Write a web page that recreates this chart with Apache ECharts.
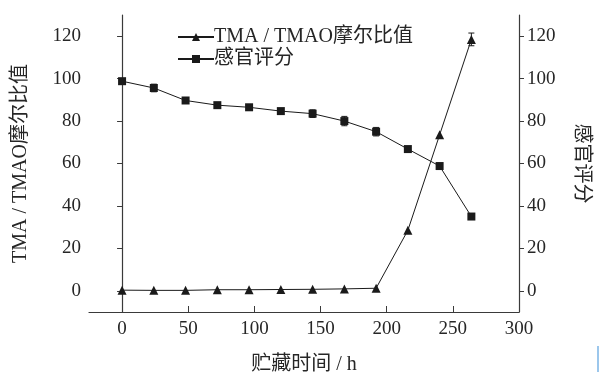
<!DOCTYPE html>
<html><head><meta charset="utf-8">
<script src="https://cdn.jsdelivr.net/npm/echarts@6/dist/echarts.min.js"></script>
<style>html,body{margin:0;padding:0;background:#fff}#c{width:601px;height:374px}</style>
</head><body><div id="c"></div>
<script>
var hours = [0, 24, 48, 72, 96, 120, 144, 168, 192, 216, 240, 264];
var tmaRatio = [0.3, 0.2, 0.2, 0.5, 0.5, 0.6, 0.7, 0.9, 1.2, 28.5, 73.5, 118.5];
var tmaErr = [0, 0, 0, 0, 0, 0, 0, 0, 0, 0, 0, 3];
var sensory = [98.8, 95.6, 89.7, 87.5, 86.5, 84.7, 83.5, 80, 75, 66.8, 58.8, 35];
var sensoryErr = [0.8, 1.8, 0.8, 0.6, 0.6, 0.6, 1.8, 2.2, 2, 0.6, 0.6, 0.8];
var xTicks = [0, 50, 100, 150, 200, 250, 300];
var yTicks = [0, 20, 40, 60, 80, 100, 120];

var FONT = '"Liberation Serif", "Noto Sans CJK SC", serif';
var INK = '#1a1a1a';
var AX = '#3a3a3a';
var TXT = '#262626';

function pairs(xs, ys){ return xs.map(function(x,i){return [x, ys[i]];}); }
function errData(xs, ys, es){ return xs.map(function(x,i){return [x, ys[i]-es[i], ys[i]+es[i]];}); }
function errRender(params, api){
  var x = api.value(0), lo = api.value(1), hi = api.value(2);
  if (hi - lo < 0.5) return;
  var p1 = api.coord([x, lo]), p2 = api.coord([x, hi]);
  var w = 3;
  var st = {stroke: INK, lineWidth: 1};
  return {type:'group', children:[
    {type:'line', shape:{x1:p1[0], y1:p1[1], x2:p2[0], y2:p2[1]}, style:st},
    {type:'line', shape:{x1:p1[0]-w, y1:p1[1], x2:p1[0]+w, y2:p1[1]}, style:st},
    {type:'line', shape:{x1:p2[0]-w, y1:p2[1], x2:p2[0]+w, y2:p2[1]}, style:st}
  ]};
}

var yCommon = function(pos, name, rot, gap){
  return {
    type:'value', position:pos, min:-10, max:130,
    name:name, nameLocation:'middle', nameRotate:rot, nameGap:gap,
    nameTextStyle:{fontFamily:FONT, fontSize:20, color:TXT},
    axisLine:{show:true, lineStyle:{color:AX, width:1.2}},
    axisTick:{show:true, inside:false, length:5, customValues:yTicks, lineStyle:{color:AX}},
    axisLabel:{customValues:yTicks, fontFamily:FONT, fontSize:19, color:TXT, margin:8},
    splitLine:{show:false}
  };
};

var chart = echarts.init(document.getElementById('c'));
chart.setOption({
  animation:false,
  backgroundColor:'#fff',
  grid:{left:89, right:82, top:15, bottom:62, containLabel:false, outerBoundsMode:'none'},
  legend:{
    orient:'vertical', left:172, top:22, itemGap:2, itemWidth:36, itemHeight:10,
    textStyle:{fontFamily:FONT, fontSize:20, color:TXT, padding:[0,0,0,-5]},
    data:['TMA / TMAO摩尔比值', '感官评分']
  },
  xAxis:{
    type:'value', min:-25, max:300,
    name:'贮藏时间 / h', nameLocation:'middle', nameGap:43,
    nameTextStyle:{fontFamily:FONT, fontSize:20, color:TXT},
    axisLine:{show:true, onZero:false, lineStyle:{color:AX, width:1.2}},
    axisTick:{show:true, inside:true, length:6, customValues:xTicks, lineStyle:{color:AX}},
    axisLabel:{customValues:xTicks, fontFamily:FONT, fontSize:19, color:TXT, margin:8},
    splitLine:{show:false}
  },
  yAxis:[
    yCommon('left', 'TMA / TMAO摩尔比值', 90, 58),
    yCommon('right', '感官评分', -90, 52)
  ],
  series:[
    {name:'TMA / TMAO摩尔比值', type:'line', yAxisIndex:0, data:pairs(hours, tmaRatio),
     symbol:'triangle', symbolSize:9, lineStyle:{color:INK, width:1}, itemStyle:{color:INK}, z:3},
    {name:'感官评分', type:'line', yAxisIndex:1, data:pairs(hours, sensory),
     symbol:'rect', symbolSize:8, lineStyle:{color:INK, width:1}, itemStyle:{color:INK}, z:3},
    {type:'custom', yAxisIndex:0, renderItem:errRender, data:errData(hours, tmaRatio, tmaErr), z:2, silent:true},
    {type:'custom', yAxisIndex:1, renderItem:errRender, data:errData(hours, sensory, sensoryErr), z:2, silent:true}
  ],
  graphic:[{type:'rect', shape:{x:597, y:346, width:2, height:26}, style:{fill:'#9cc7ec'}}]
});
</script></body></html>
